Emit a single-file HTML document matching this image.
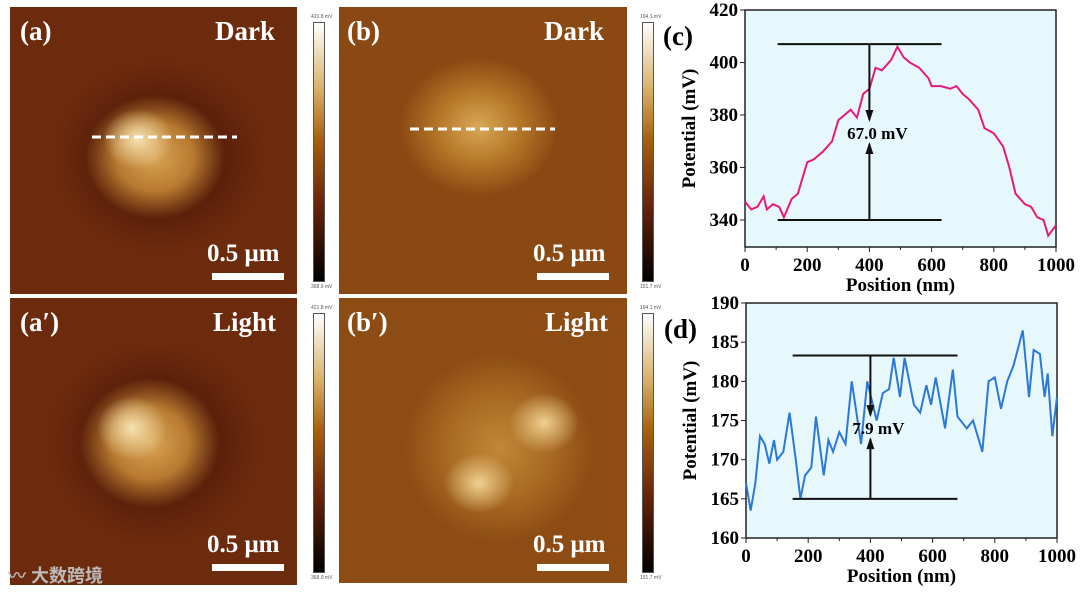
<!DOCTYPE html>
<html><head><meta charset="utf-8"><style>
body{margin:0;width:1080px;height:593px;background:#fff;position:relative;overflow:hidden;font-family:"Liberation Serif",serif}
.img{position:absolute;overflow:hidden}
.lab{position:absolute;color:#fff;font-weight:bold;font-size:27px}
.cb{position:absolute;width:10px;border:1px solid #555;background:linear-gradient(#fff,#d9b26a 25%,#a8600e 45%,#6a240a 70%,#000)}
.cbt{position:absolute;font:5px "Liberation Sans",sans-serif;color:#555}
.sb{position:absolute;height:7px;background:#fff}
</style></head><body>
<div class="img" style="left:10px;top:7px;width:287px;height:287px;background:radial-gradient(ellipse 35px 30px at 128px 132px,#f6e2b0,rgba(230,190,120,0) 100%),radial-gradient(ellipse 70px 62px at 145px 150px,#d8a455,#b87a30 55%,rgba(120,50,15,0) 100%),radial-gradient(ellipse 105px 95px at 150px 150px,rgba(60,15,5,0.9),rgba(80,25,8,0.5) 70%,rgba(109,43,13,0) 100%),#6d2b0d"></div>
<div class="lab" style="left:20px;top:16px">(a)</div>
<div class="lab" style="left:215px;top:16px">Dark</div>
<svg style="position:absolute;left:0;top:0" width="340" height="300"><line x1="92" y1="137" x2="237" y2="137" stroke="#fff" stroke-width="3" stroke-dasharray="9,5"/></svg>
<div class="lab" style="left:207px;top:240px;font-size:25px">0.5 μm</div>
<div class="sb" style="left:212px;top:273px;width:72px"></div>

<div class="img" style="left:10px;top:298px;width:287px;height:287px;background:radial-gradient(ellipse 35px 32px at 122px 130px,#f6e2b0,rgba(230,190,120,0) 100%),radial-gradient(ellipse 70px 65px at 140px 145px,#d8a455,#b87a30 55%,rgba(120,50,15,0) 100%),radial-gradient(ellipse 105px 100px at 145px 145px,rgba(60,15,5,0.9),rgba(80,25,8,0.5) 70%,rgba(109,43,13,0) 100%),#6d2b0d"></div>
<div class="lab" style="left:20px;top:307px">(a′)</div>
<div class="lab" style="left:213px;top:307px">Light</div>
<div class="lab" style="left:207px;top:531px;font-size:25px">0.5 μm</div>
<div class="sb" style="left:212px;top:564px;width:72px"></div>

<div class="img" style="left:339px;top:7px;width:288px;height:287px;background:radial-gradient(ellipse 80px 70px at 140px 120px,#d8a858,#b57828 50%,rgba(140,75,20,0) 100%),#8a4812"></div>
<div class="lab" style="left:347px;top:16px">(b)</div>
<div class="lab" style="left:544px;top:16px">Dark</div>
<svg style="position:absolute;left:330px;top:0" width="300" height="300"><line x1="80" y1="129" x2="225" y2="129" stroke="#fff" stroke-width="3" stroke-dasharray="9,5"/></svg>
<div class="lab" style="left:533px;top:240px;font-size:25px">0.5 μm</div>
<div class="sb" style="left:537px;top:273px;width:72px"></div>

<div class="img" style="left:339px;top:298px;width:288px;height:285px;background:radial-gradient(ellipse 35px 30px at 205px 125px,#f0d090,rgba(200,140,60,0) 100%),radial-gradient(ellipse 35px 30px at 140px 185px,#f0d090,rgba(200,140,60,0) 100%),radial-gradient(ellipse 95px 95px at 160px 150px,#c08838,#a86a22 55%,rgba(140,75,20,0) 100%),#8c4c14"></div>
<div class="lab" style="left:347px;top:307px">(b′)</div>
<div class="lab" style="left:545px;top:307px">Light</div>
<div class="lab" style="left:533px;top:531px;font-size:25px">0.5 μm</div>
<div class="sb" style="left:537px;top:564px;width:72px"></div>

<div class="cb" style="left:313px;top:22px;height:258px"></div>
<div class="cbt" style="left:311px;top:14px">421.8 mV</div><div class="cbt" style="left:311px;top:284px">368.9 mV</div>
<div class="cb" style="left:313px;top:313px;height:258px"></div>
<div class="cbt" style="left:311px;top:305px">421.8 mV</div><div class="cbt" style="left:311px;top:575px">368.9 mV</div>
<div class="cb" style="left:642px;top:22px;height:258px"></div>
<div class="cbt" style="left:640px;top:14px">194.1 mV</div><div class="cbt" style="left:640px;top:284px">151.7 mV</div>
<div class="cb" style="left:642px;top:313px;height:258px"></div>
<div class="cbt" style="left:640px;top:305px">194.1 mV</div><div class="cbt" style="left:640px;top:575px">151.7 mV</div>

<svg id="chart" style="position:absolute;left:0;top:0" width="1080" height="593" font-family="Liberation Serif, serif" font-weight="bold"></svg>
<div style="position:absolute;left:8px;top:562px;font:bold 18px 'Liberation Sans','Noto Sans CJK SC',sans-serif;color:#bbb">〰 大数跨境</div>
<script>
const cX=[0,20,40,60,70,90,110,125,150,170,200,220,250,280,300,340,360,380,400,420,440,470,490,510,530,560,590,600,630,660,680,700,720,750,770,800,830,850,870,900,920,940,960,975,1000];
const cY=[347,344,345,349,344,346,345,341,348,350,362,363,366,370,378,382,379,388,390,398,397,401,406,402,400,398,394,391,391,390,391,388,386,382,375,373,368,360,350,346,345,341,340,334,338];
const dX=[0,15,30,45,60,75,90,100,120,140,160,175,190,210,225,250,265,280,300,320,340,370,390,420,440,460,475,495,510,540,560,580,595,610,640,665,680,710,730,760,780,800,820,840,860,890,910,925,945,960,970,985,1000];
const dY=[167,163.5,167,173,172,169.5,172.5,170,171,176,170,165,168,169,175.5,168,172.5,171,173.5,172,180,172,180,175,178.5,179,183,178,183,177,176,179.5,177,180.5,174,181.5,175.5,174,175,171,180,180.5,176.5,180,182,186.5,178,184,183.5,178,181,173,178];
const xTicks=[0,200,400,600,800,1000];
const cTicks=[340,360,380,400,420];
const dTicks=[160,165,170,175,180,185,190];
const svg=document.getElementById('chart');const NS='http://www.w3.org/2000/svg';
function el(t,a,p){const e=document.createElementNS(NS,t);for(const k in a)e.setAttribute(k,a[k]);(p||svg).appendChild(e);return e;}
function chart(o){
 const g=el('g',{});
 
 
 const sx=v=>o.x0+(v-0)/1000*(o.x1-o.x0), sy=v=>o.y1-(v-o.ymin)/(o.ymax-o.ymin)*(o.y1-o.y0);
 el('rect',{x:o.x0,y:o.y0,width:o.x1-o.x0,height:o.y1-o.y0,fill:'#e6f8fc',stroke:'#222','stroke-width':1.5},g);
 xTicks.forEach(t=>{el('line',{x1:sx(t),x2:sx(t),y1:o.y1,y2:o.y1+5,stroke:'#222'},g);el('line',{x1:sx(t+100),x2:sx(t+100),y1:o.y1,y2:o.y1+3,stroke:'#222'},g);
  const tx=el('text',{x:sx(t),y:o.y1+24,'text-anchor':'middle','font-size':19},g);tx.textContent=t;});
 o.ticks.forEach((t,i)=>{el('line',{x1:o.x0-5,x2:o.x0,y1:sy(t),y2:sy(t),stroke:'#222'},g);
  const tx=el('text',{x:o.x0-7,y:sy(t)+6,'text-anchor':'end','font-size':19},g);tx.textContent=t;});
 const xt=el('text',{x:(o.x0+o.x1)/2,y:o.y1+44,'text-anchor':'middle','font-size':19},g);xt.textContent='Position (nm)';
 const yt=el('text',{x:0,y:0,transform:`translate(${o.x0-50},${(o.y0+o.y1)/2}) rotate(-90)`,'text-anchor':'middle','font-size':19},g);yt.textContent='Potential (mV)';
 const pl=el('polyline',{points:o.X.map((x,i)=>sx(x)+','+sy(o.Y[i])).join(' '),fill:'none',stroke:o.color,'stroke-width':2},g);
 
 
 el('line',{x1:sx(o.hx0),x2:sx(o.hx1),y1:sy(o.top),y2:sy(o.top),stroke:'#111','stroke-width':2},g);
 el('line',{x1:sx(o.hx0),x2:sx(o.hx1),y1:sy(o.bot),y2:sy(o.bot),stroke:'#111','stroke-width':2},g);
 const ax=sx(400),mid=(sy(o.top)+sy(o.bot))/2;
 el('line',{x1:ax,x2:ax,y1:sy(o.top),y2:mid-12,stroke:'#111','stroke-width':2},g);
 el('polygon',{points:`${ax-4},${mid-22} ${ax+4},${mid-22} ${ax},${mid-10}`,fill:'#111'},g);
 el('line',{x1:ax,x2:ax,y1:sy(o.bot),y2:mid+12,stroke:'#111','stroke-width':2},g);
 el('polygon',{points:`${ax-4},${mid+22} ${ax+4},${mid+22} ${ax},${mid+10}`,fill:'#111'},g);
 const lt=el('text',{x:ax+8,y:mid+7,'text-anchor':'middle','font-size':17},g);lt.textContent=o.label;
 const pt=el('text',{x:o.x0-82,y:o.y0+35,'font-size':27},g);pt.textContent=o.panel;
}
chart({name:'chart-c',x0:745,x1:1056,y0:10,y1:247,ymin:329.7,ymax:420,ticks:cTicks,X:cX,Y:cY,color:'#e8197a',top:407,bot:340,hx0:105,hx1:632,label:'67.0 mV',panel:'(c)'});
chart({name:'chart-d',x0:746,x1:1057,y0:303,y1:538,ymin:160,ymax:190,ticks:dTicks,X:dX,Y:dY,color:'#2b78d8',top:183.3,bot:165,hx0:150,hx1:680,label:'7.9 mV',panel:'(d)'});
</script>
</body></html>
